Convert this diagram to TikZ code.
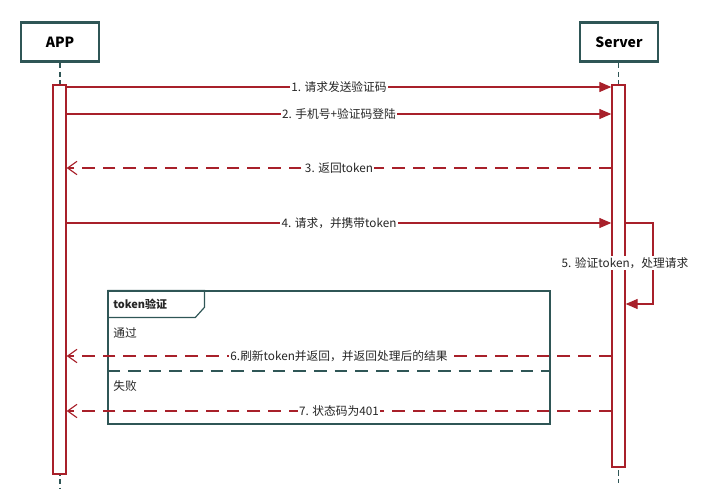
\documentclass[tikz,border=0pt]{standalone}
\usepackage{fontspec}
\setmainfont{Noto Sans CJK SC}
\usetikzlibrary{arrows.meta}

\definecolor{boxteal}{HTML}{2F5656}
\definecolor{msgred}{HTML}{A8202A}

\tikzset{
  header/.style={draw=boxteal, line width=2.2pt, fill=white, minimum width=58.5pt, minimum height=29.5pt, font=\bfseries\fontsize{10.5}{12}\selectfont},
  lifeline/.style={draw=boxteal, line width=0.8pt, dash pattern=on 4pt off 2.5pt},
  actbox/.style={draw=msgred, line width=1pt, fill=white, minimum width=9.75pt, inner sep=0pt},
  call/.style={draw=msgred, line width=0.85pt, -{Triangle[length=9pt,width=7.5pt]}},
  reply/.style={draw=msgred, line width=0.85pt, dash pattern=on 9.5pt off 6pt, -{Straight Barb[length=7pt,width=10pt]}},
  msg/.style={fill=white, text=black!85, font=\fontsize{8.8}{10}\selectfont, inner sep=1pt},
  fragbox/.style={draw=boxteal, line width=0.9pt, minimum width=331.5pt, minimum height=99.75pt, inner sep=0pt},
  guard/.style={anchor=west, text=black!85, font=\fontsize{8.8}{10}\selectfont, inner sep=0pt},
}

\begin{document}
\begin{tikzpicture}[x=0.75pt, y=-0.75pt]
	\useasboundingbox (0,0) rectangle (708,500);
	% participants
	\node (app) at (60,42) [header] {APP};
	\node (server) at (619,42) [header] {Server};
	\coordinate (append) at (60,488);
	\coordinate (srvend) at (618.5,483);
	\draw[lifeline] (app) -- (append);
	\draw[lifeline] (server.south -| srvend) -- (srvend);
	\node (appact) at (59.5,279.5) [actbox, minimum height=291.75pt] {};
	\node (srvact) at (618.5,276) [actbox, minimum height=286.5pt] {};

	% alt fragment
	\node (frag) at (329,357.5) [fragbox] {};
	\draw[boxteal, line width=0.9pt] (frag.north west) -- ++(97,0) -- ++(0,17) -- ++(-9,10) -- ++(-88,0);
	\node (fragtitle) at (113,304.5) [guard, font=\bfseries\fontsize{8.2}{9}\selectfont] {token验证};
	\node (pass) at (113,333) [guard] {通过};
	\node (fail) at (113,386) [guard] {失败};
	\draw[boxteal, line width=0.9pt, dash pattern=on 9.5pt off 6pt] (frag.west |- 0,371) -- (frag.east |- 0,371);

	% messages
	\draw[call] (appact.east |- 0,87) -- (srvact.west |- 0,87) node[msg, midway] {1. 请求发送验证码};
	\draw[call] (appact.east |- 0,114) -- (srvact.west |- 0,114) node[msg, midway] {2. 手机号+验证码登陆};
	\draw[reply] (srvact.west |- 0,168) -- (appact.east |- 0,168) node[msg, midway] {3. 返回token};
	\draw[call] (appact.east |- 0,223) -- (srvact.west |- 0,223) node[msg, midway] {4. 请求，并携带token};
	\draw[call] (srvact.east |- 0,223) -- (653,223) -- (653,304) -- (srvact.east |- 0,304);
	\node (selfmsg) at (625,263) [msg] {5. 验证token，处理请求};
	\draw[reply] (srvact.west |- 0,356) -- (appact.east |- 0,356) node[msg, midway] {6.刷新token并返回，并返回处理后的结果};
	\draw[reply] (srvact.west |- 0,411) -- (appact.east |- 0,411) node[msg, midway] {7. 状态码为401};
\end{tikzpicture}
\end{document}
